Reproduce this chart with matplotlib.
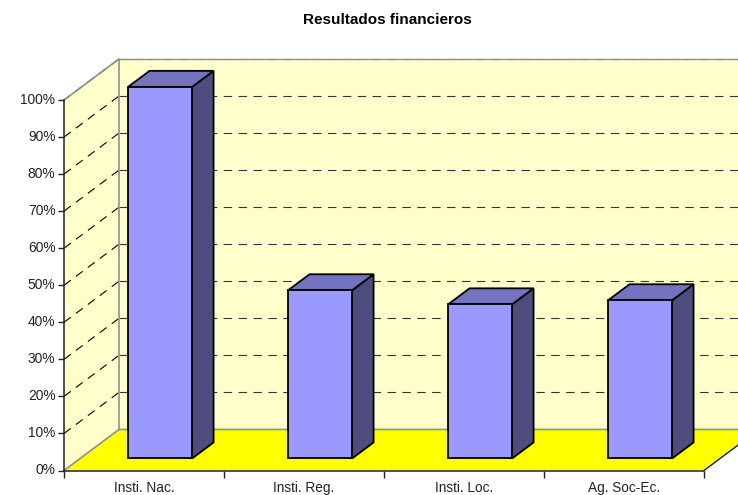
import matplotlib
matplotlib.use('Agg')
import matplotlib.pyplot as plt
from matplotlib.patches import Polygon
from matplotlib.transforms import ScaledTranslation

# Data
categories = ['Insti. Nac.', 'Insti. Reg.', 'Insti. Loc.', 'Ag. Soc-Ec.']
values = [100.3, 45.4, 41.6, 42.7]
y_ticks = [0, 10, 20, 30, 40, 50, 60, 70, 80, 90, 100]

plt.rcParams['font.family'] = ['Liberation Sans', 'DejaVu Sans']

W, H = 738, 495
fig = plt.figure(figsize=(W / 100, H / 100), dpi=100)
ax = fig.add_axes([64 / W, (H - 470.5) / H, 640 / W, 370.5 / H])
ax.set_xlim(0, 4)
ax.set_ylim(0, 100)
ax.patch.set_visible(False)

# 3D depth expressed in data units
DX = 55 / 160
DY = 41 / 3.7
BAR_W = 0.4
BAR_GAP = 0.3
NEAR = 12 / 41   # share of the depth where the bar front sits
FAR = 28 / 41    # share of the depth where the bar back sits


def add_poly(pts, face, edge='none', lw=0.0, z=1):
    ax.add_patch(Polygon(pts, closed=True, facecolor=face, edgecolor=edge,
                         linewidth=lw, zorder=z, clip_on=False,
                         joinstyle='miter'))


# Walls and floor
add_poly([(0, 0), (DX, DY), (DX, 100 + DY), (0, 100)], '#FFFFCC', z=1)
add_poly([(DX, DY), (4 + DX, DY), (4 + DX, 100 + DY), (DX, 100 + DY)], '#FFFFCC', z=1)
add_poly([(0, 0), (4, 0), (4 + DX, DY), (DX, DY)], '#FFFF00', z=2)

# Gridlines on both walls
for t in y_ticks[1:]:
    ax.plot([0, DX], [t, t + DY], color='black', lw=0.8, dashes=(7.6, 5.8), zorder=3, clip_on=False)
    ax.plot([DX, 4 + DX], [t + DY, t + DY], color='#333333', lw=0.8, dashes=(7.6, 5.8), zorder=3, clip_on=False)

# Wall outlines
gray = '#909090'
ax.plot([0, DX, DX], [100, 100 + DY, DY], color=gray, lw=1.2, zorder=4, clip_on=False)
ax.plot([DX, 4 + DX], [100 + DY, 100 + DY], color=gray, lw=1.0, zorder=4, clip_on=False)
ax.plot([0, DX, 4 + DX], [0, DY, DY], color=gray, lw=1.2, zorder=4, clip_on=False)
ax.plot([4, 4 + DX], [0, DY], color='black', lw=0.9, zorder=4, clip_on=False)

# Bars
for i, v in enumerate(values):
    x0 = i + BAR_GAP + NEAR * DX
    x1 = x0 + BAR_W
    y0 = NEAR * DY
    y1 = y0 + v
    ox = (FAR - NEAR) * DX
    oy = (FAR - NEAR) * DY
    add_poly([(x1, y0), (x1 + ox, y0 + oy), (x1 + ox, y1 + oy), (x1, y1)],
             '#4D4D80', 'black', 1.3, z=5)
    add_poly([(x0, y1), (x1, y1), (x1 + ox, y1 + oy), (x0 + ox, y1 + oy)],
             '#7373BF', 'black', 1.3, z=5)
    add_poly([(x0, y0), (x1, y0), (x1, y1), (x0, y1)],
             '#9999FF', 'black', 1.3, z=6)

# Axes
for s in ['top', 'right']:
    ax.spines[s].set_visible(False)
for s in ['left', 'bottom']:
    ax.spines[s].set_linewidth(1.1)
    ax.spines[s].set_color('#222222')
    ax.spines[s].set_zorder(7)

ax.set_yticks(y_ticks)
ax.set_yticklabels([f'{t}%' for t in y_ticks], fontsize=9.9, color='#222222')
ax.set_xticks([0, 1, 2, 3, 4])
ax.set_xticklabels([])
ax.set_xticks([0.5, 1.5, 2.5, 3.5], labels=categories, minor=True)
ax.tick_params(axis='y', length=4, width=1.0, pad=2.2, color='#222222')
ax.tick_params(axis='x', which='major', length=5, width=1.0, color='#222222')
ax.tick_params(axis='x', which='minor', length=0, pad=7.5, labelsize=9.8, labelcolor='#222222')

# nudge the percent labels up to sit on their ticks
nudge = ScaledTranslation(0, 1.5 / 100, fig.dpi_scale_trans)
for lab in ax.get_yticklabels():
    lab.set_transform(lab.get_transform() + nudge)

fig.text(387 / W, 1 - 20.5 / H, 'Resultados financieros', ha='center', va='center',
         fontsize=11, fontweight='bold', color='black')

fig.savefig('out.png', dpi=100)
